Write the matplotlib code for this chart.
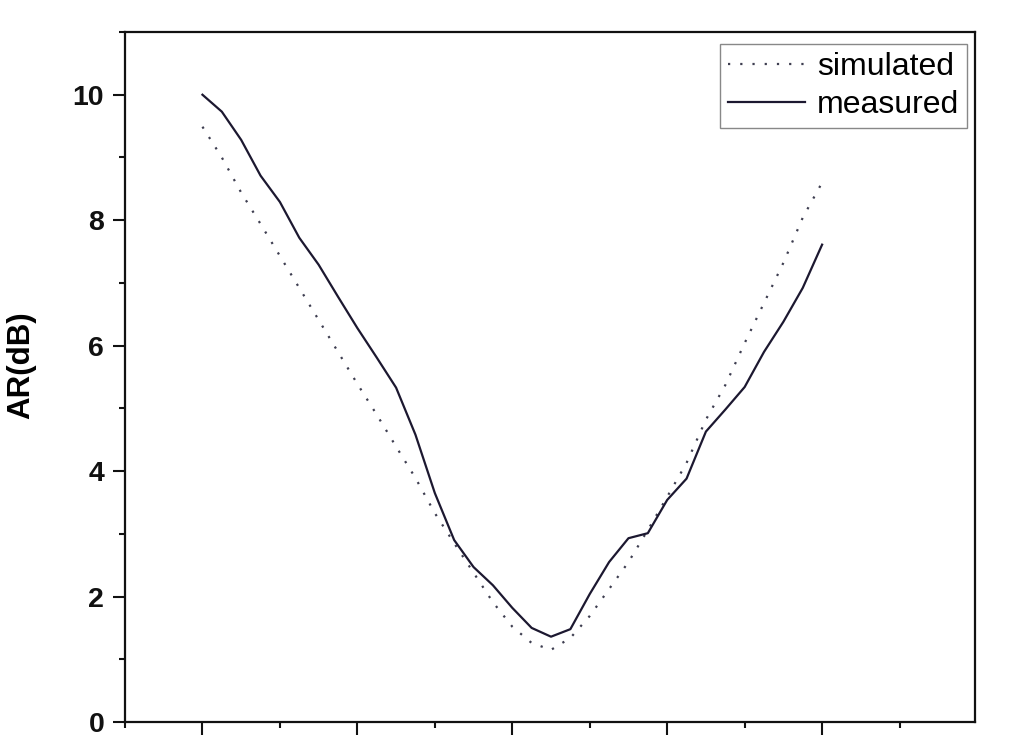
import numpy as np
import matplotlib
matplotlib.use("Agg")
import matplotlib.pyplot as plt
from matplotlib.ticker import MultipleLocator

plt.rcParams["font.family"] = ["Liberation Sans", "DejaVu Sans"]

# frequency axis (labels are cropped off in the reference)
freq = [2.200, 2.225, 2.250, 2.275, 2.300, 2.325, 2.350, 2.375, 2.400, 2.425, 2.450,
        2.475, 2.500, 2.525, 2.550, 2.575, 2.600, 2.625, 2.650, 2.675, 2.700, 2.725,
        2.750, 2.775, 2.800, 2.825, 2.850, 2.875, 2.900, 2.925, 2.950, 2.975, 3.000]
ar_sim = [9.49, 9.00, 8.44, 7.94, 7.43, 6.92, 6.41, 5.90, 5.39, 4.90, 4.39,
          3.89, 3.33, 2.85, 2.38, 1.91, 1.52, 1.26, 1.15, 1.34, 1.69, 2.12,
          2.55, 3.06, 3.59, 4.13, 4.82, 5.37, 6.04, 6.68, 7.32, 8.04, 8.60]
ar_meas = [10.00, 9.73, 9.28, 8.71, 8.29, 7.72, 7.29, 6.78, 6.28, 5.81, 5.33,
           4.58, 3.65, 2.90, 2.47, 2.18, 1.82, 1.50, 1.36, 1.48, 2.04, 2.55,
           2.93, 3.01, 3.54, 3.88, 4.63, 4.98, 5.34, 5.90, 6.38, 6.92, 7.61]

fig = plt.figure(figsize=(10.18, 7.42), dpi=100)
ax = fig.add_axes([125 / 1018, 20 / 742, 850 / 1018, 690 / 742])

ax.plot(freq, ar_sim, color="#3e3e50", lw=1.6, ls=(0, (1, 4.5)), label="simulated")
ax.plot(freq, ar_meas, color="#1c1830", lw=1.6, label="measured")

ax.set_xlim(2.1, 3.1974)
ax.set_ylim(0, 11)
ax.xaxis.set_major_locator(MultipleLocator(0.2))
ax.xaxis.set_minor_locator(MultipleLocator(0.1))
ax.yaxis.set_major_locator(MultipleLocator(2))
ax.yaxis.set_minor_locator(MultipleLocator(1))

for sp in ax.spines.values():
    sp.set_linewidth(1.6)
    sp.set_color("#111111")
ax.tick_params(which="both", direction="out", width=1.5, colors="#111111",
               top=False, right=False, labelbottom=False)
ax.tick_params(which="major", length=9)
ax.tick_params(which="minor", length=4.5)
ax.tick_params(axis="y", labelsize=20.5, pad=6)
for t in ax.get_yticklabels():
    t.set_fontweight("bold")

ax.set_ylabel("AR(dB)", fontsize=22.5, fontweight="bold")
ax.yaxis.set_label_coords(-0.104, 0.517)

leg = ax.legend(loc="upper right", bbox_to_anchor=(0.9906, 0.9826), borderaxespad=0,
                fontsize=23, fancybox=False, edgecolor="#888888", framealpha=1,
                handlelength=2.4, handletextpad=0.37, labelspacing=0.25,
                borderpad=0.25)
leg.get_frame().set_linewidth(1.0)

fig.savefig("out.png", dpi=100)
